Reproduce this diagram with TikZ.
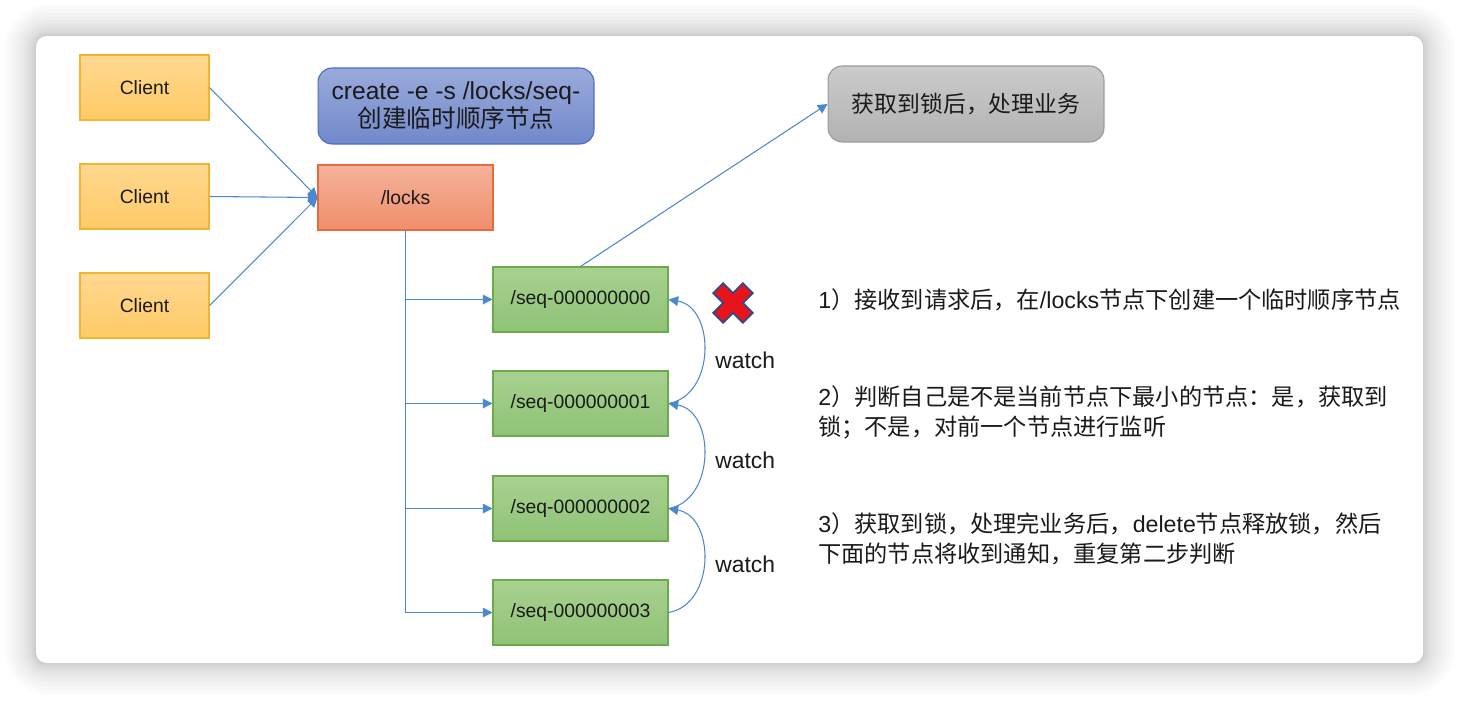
\documentclass[tikz,border=0pt]{standalone}
\usepackage{fontspec}
\setmainfont{Liberation Sans}
\newfontfamily\cjk{Noto Sans CJK SC}
\newfontfamily\lat{Liberation Sans}
\usetikzlibrary{arrows.meta}
\definecolor{clienttop}{HTML}{FFD890}
\definecolor{clientbot}{HTML}{FFCA66}
\definecolor{clientline}{HTML}{F2B531}
\definecolor{createtop}{HTML}{9AAADB}
\definecolor{createbot}{HTML}{7189CB}
\definecolor{createline}{HTML}{4A6CC0}
\definecolor{lockstop}{HTML}{F4B29A}
\definecolor{locksbot}{HTML}{F08E6C}
\definecolor{locksline}{HTML}{E8693A}
\definecolor{seqtop}{HTML}{A8D18F}
\definecolor{seqbot}{HTML}{8FC277}
\definecolor{seqline}{HTML}{6DAA4D}
\definecolor{donetop}{HTML}{CBCBCB}
\definecolor{donebot}{HTML}{B2B2B2}
\definecolor{doneline}{HTML}{9A9A9A}
\definecolor{linkblue}{HTML}{4A88CF}
\definecolor{crossred}{HTML}{E8141B}
\definecolor{crossline}{HTML}{2C4A8A}
\definecolor{textdark}{HTML}{1A1A1A}

\begin{document}
\begin{tikzpicture}[x=0.02cm, y=-0.02cm,
    nodebox/.style={draw, line width=0.6pt, minimum width=3.5cm, minimum height=1.3cm, inner sep=0pt, text=textdark, font=\fontsize{11}{13}\selectfont},
    client/.style={nodebox, minimum width=2.58cm, draw=clientline, top color=clienttop, bottom color=clientbot},
    seqnode/.style={nodebox, draw=seqline, top color=seqtop, bottom color=seqbot},
    bigbox/.style={nodebox, minimum width=5.52cm, minimum height=1.52cm, rounded corners=8pt},
    conn/.style={draw=linkblue, line width=0.6pt, -{Triangle[length=5.5pt,width=5.5pt]}},
    labeltext/.style={anchor=west, inner sep=0pt, text=textdark, font=\fontsize{13}{16}\selectfont},
    steptext/.style={labeltext, align=left, font=\cjk\fontsize{13.2}{17}\selectfont}]
    \useasboundingbox (0,0) rectangle (1460,700);
    \fill[white] (0,0) rectangle (1460,700);
    % shadow and frame
    \foreach \r [evaluate=\r as \d using 0.16*\r*\r, evaluate=\r as \rc using 6+0.1*\r*\r] in {1,...,14}
        \fill[black, opacity=0.014, rounded corners=\rc pt] (36-\d,36-\d) rectangle (1423+\d,663+\d);
    \fill[white, rounded corners=6pt] (36,36) rectangle (1423,663);

    \node[client] (c1) at (144.5,87.5) {Client};
    \node[client] (c2) at (144.5,196.5) {Client};
    \node[client] (c3) at (144.5,305.5) {Client};
    \node[bigbox, draw=createline, top color=createtop, bottom color=createbot, align=center, font=\fontsize{14}{16}\selectfont] (create) at (456,106) {create -e -s /locks/seq-\\{\cjk 创建临时顺序节点}};
    \node[nodebox, draw=locksline, top color=lockstop, bottom color=locksbot] (locks) at (405.5,197.5) {/locks};
    \node[bigbox, draw=doneline, top color=donetop, bottom color=donebot, font=\cjk\fontsize{13}{16}\selectfont] (done) at (966,104) {获取到锁后，处理业务};
    \foreach \i/\y in {0/299.5,1/403.5,2/508.5,3/612.5}
        \node[seqnode] (s\i) at (580.5,\y) {/seq-00000000\i};

    \foreach \c in {c1,c2,c3}
        \draw[conn] (\c.east) -- (locks.west);
    \foreach \i in {0,...,3}
        \draw[conn] (locks.south) |- (s\i.west);
    \draw[conn] (s0.north) -- (done.west);
    \foreach \i/\j in {1/0,2/1,3/2}
        \draw[conn] (s\i.east) .. controls +(47,-8) and +(47,8) .. (s\j.east);

    % red cross
    \draw[draw=crossline, fill=crossred, line width=1pt, shift={(733,303)}, rotate=45]
        (-7,-21) -- (7,-21) -- (7,-7) -- (21,-7) -- (21,7) -- (7,7) -- (7,21)
        -- (-7,21) -- (-7,7) -- (-21,7) -- (-21,-7) -- (-7,-7) -- cycle;

    \node[labeltext] (w1) at (715,360) {watch};
    \node[labeltext] (w2) at (715,460) {watch};
    \node[labeltext] (w3) at (715,564) {watch};

    \node[steptext] (step1) at (818,300) {{\lat 1}）接收到请求后，在{\lat /locks}节点下创建一个临时顺序节点};
    \node[steptext] (step2) at (818,412) {{\lat 2}）判断自己是不是当前节点下最小的节点：是，获取到\\锁；不是，对前一个节点进行监听};
    \node[steptext] (step3) at (818,539) {{\lat 3}）获取到锁，处理完业务后，{\lat delete}节点释放锁，然后\\下面的节点将收到通知，重复第二步判断};
\end{tikzpicture}
\end{document}
